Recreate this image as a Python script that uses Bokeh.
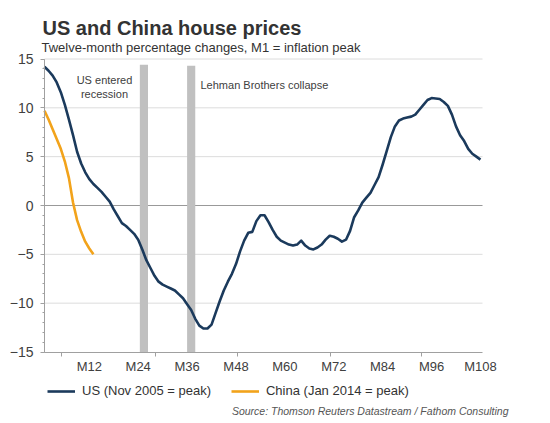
from bokeh.plotting import figure
from bokeh.models import (Label, Legend, LegendItem, FixedTicker, Range1d)
from bokeh.embed import file_html
from bokeh.resources import INLINE

# ---- data ----
us_values = [14.2, 13.8, 13.3, 12.6, 11.6, 10.3, 8.8, 7.2, 5.5, 4.3,
             3.4, 2.7, 2.2, 1.8, 1.4, 0.9, 0.4, -0.4, -1.1, -1.8,
             -2.1, -2.5, -2.9, -3.5, -4.5, -5.6, -6.4, -7.2, -7.8, -8.1,
             -8.3, -8.5, -8.7, -9.1, -9.5, -10.1, -10.7, -11.6, -12.3, -12.6,
             -12.6, -12.2, -11.0, -9.8, -8.7, -7.8, -7.0, -6.0, -4.7, -3.6,
             -2.8, -2.7, -1.6, -1.0, -1.0, -1.7, -2.5, -3.2, -3.6, -3.8,
             -4.0, -4.1, -4.0, -3.6, -4.1, -4.4, -4.5, -4.3, -4.0, -3.5,
             -3.1, -3.2, -3.4, -3.7, -3.5, -2.6, -1.2, -0.5, 0.3, 0.8,
             1.3, 2.1, 2.9, 4.2, 5.6, 7.0, 8.1, 8.7, 8.9, 9.0,
             9.1, 9.3, 9.8, 10.3, 10.8, 11.0, 10.95, 10.9, 10.6, 10.2,
             9.3, 8.1, 7.2, 6.6, 5.8, 5.3, 5.0, 4.7]
us_months = list(range(1, len(us_values) + 1))

china_values = [9.7, 8.8, 7.8, 6.8, 5.8, 4.5, 2.8, 0.3, -1.5, -2.7, -3.7, -4.4, -5.0]
china_months = list(range(1, len(china_values) + 1))

event_months = [25.4, 37.0]
event_top = [14.4, 14.3]

x_tick_months = [12, 24, 36, 48, 60, 72, 84, 96, 108]
x_tick_labels = ["M12", "M24", "M36", "M48", "M60", "M72", "M84", "M96", "M108"]
y_ticks = [-15, -10, -5, 0, 5, 10, 15]

title_text = "US and China house prices"
subtitle_text = "Twelve-month percentage changes, M1 = inflation peak"
source_text = "Source: Thomson Reuters Datastream / Fathom Consulting"
us_label = "US (Nov 2005 = peak)"
china_label = "China (Jan 2014 = peak)"

# ---- geometry (page pixels of the plotting area) ----
X0, X1 = 1, 108.5
Y0, Y1 = -15, 15
PL, PR, PT, PB = 44, 482, 58.5, 351.5
ORG = 0                  # canvas origin on the page
W, H = 550, 423
SX = (X1 - X0) / (PR - PL)
SY = (Y1 - Y0) / (PB - PT)


def dx(px):
    return X0 + (px - PL) * SX


def dy(py):
    return Y1 - (py - PT) * SY


FONT = "Liberation Sans"
TXT = "#404040"

p = figure(width=W, height=H, output_backend="svg", toolbar_location=None,
           x_range=Range1d(dx(ORG), dx(ORG + W)), y_range=Range1d(dy(ORG + H), dy(ORG)),
           min_border_left=0, min_border_right=0, min_border_top=0, min_border_bottom=0)
p.outline_line_color = None
p.background_fill_color = "white"
p.border_fill_color = "white"

# grid lines limited to the plotting area
p.xgrid.grid_line_color = None
p.ygrid.grid_line_color = None
light = [t for t in y_ticks if t not in (Y0, 0)]
p.segment(x0=[X0] * len(light), x1=[X1] * len(light), y0=light, y1=light,
          line_color="#dcdcdc", line_width=1)
p.segment(x0=[X0], x1=[X1], y0=[0], y1=[0], line_color="#999999", line_width=1)

# axes drawn at the edges of the plotting area
p.yaxis.fixed_location = X0
p.yaxis.bounds = (Y0, Y1)
p.yaxis.ticker = FixedTicker(ticks=y_ticks, minor_ticks=list(range(-15, 16)))
p.yaxis.axis_line_color = "#a0a0a0"
p.yaxis.major_tick_line_color = "#a0a0a0"
p.yaxis.minor_tick_line_color = "#a0a0a0"
p.yaxis.major_tick_out = 4
p.yaxis.major_tick_in = 0
p.yaxis.minor_tick_out = 2
p.yaxis.minor_tick_in = 0
p.yaxis.major_label_standoff = 7
p.yaxis.major_label_text_font = FONT
p.yaxis.major_label_text_font_size = "14px"
p.yaxis.major_label_text_color = TXT

p.xaxis.fixed_location = Y0
p.xaxis.bounds = (X0, X1)
p.xaxis.ticker = FixedTicker(ticks=x_tick_months, minor_ticks=[5.2, 28.2, 48.3, 71.2, 93.5])
p.xaxis.major_label_overrides = {m: l for m, l in zip(x_tick_months, x_tick_labels)}
p.xaxis.axis_line_color = "#a0a0a0"
p.xaxis.major_tick_line_color = None
p.xaxis.major_tick_out = 4
p.xaxis.major_tick_in = 0
p.xaxis.minor_tick_line_color = "#a0a0a0"
p.xaxis.minor_tick_out = 4
p.xaxis.minor_tick_in = 0
p.xaxis.major_label_standoff = 3
p.xaxis.major_label_text_font = FONT
p.xaxis.major_label_text_font_size = "13px"
p.xaxis.major_label_text_color = TXT

# event bars
p.vbar(x=event_months, top=event_top, bottom=Y0, width=2.0, color="#c0c0c0", line_color=None)

us = p.line(us_months, us_values, line_color="#1b3a5c", line_width=2.6, line_join="round")
cn = p.line(china_months, china_values, line_color="#f2a31b", line_width=2.6, line_join="round")

# legend (screen position from canvas bottom-left)
legend = Legend(items=[LegendItem(label=us_label, renderers=[us]),
                       LegendItem(label=china_label, renderers=[cn])],
                orientation="horizontal", location=(47, 25),
                glyph_width=28, glyph_height=14, label_standoff=7, spacing=20,
                padding=0, margin=0, background_fill_alpha=0, border_line_alpha=0,
                label_text_font=FONT, label_text_font_size="13px", label_text_color="#333333")
p.add_layout(legend, "center")


def lab(text, px, py, size, align="left", style="normal", color=TXT):
    p.add_layout(Label(x=dx(px), y=dy(py), text=text, text_font=FONT, text_font_size=size,
                       text_align=align, text_baseline="alphabetic", text_font_style=style,
                       text_color=color))


lab(title_text, 42, 27.5, "20px", style="bold", color="#333333")
lab(subtitle_text, 41, 46.5, "13px", color="#333333")
lab("US entered", 104, 79.5, "11px", align="center")
lab("recession", 104, 93, "11px", align="center")
lab("Lehman Brothers collapse", 200, 84, "11px")
lab(source_text, 508, 410.5, "10.5px", align="right", style="italic", color="#555555")

open("out.html", "w").write(file_html(p, INLINE))
